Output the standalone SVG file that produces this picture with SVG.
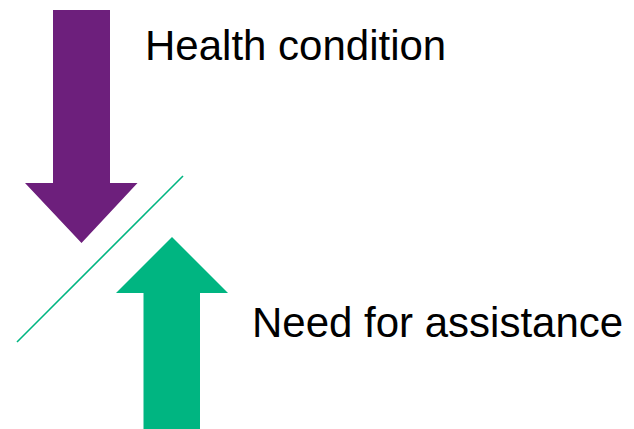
<svg xmlns="http://www.w3.org/2000/svg" width="634" height="429" viewBox="0 0 634 429">
<style>
.lbl{font-family:"Liberation Sans",Arial,sans-serif;font-size:42px;fill:#000}
</style>
<rect width="634" height="429" fill="#fff"/>
<g id="health-arrow">
<polygon points="53,10 110,10 110,183 137.5,183 81.5,243 25,183 53,183" fill="#6d1f7c"/>
</g>
<g id="need-arrow">
<polygon points="172,237 228,293 200,293 200,429 143.5,429 143.5,293 116,293" fill="#00b581"/>
</g>
<g id="connectors">
<line x1="17" y1="342" x2="183" y2="176" stroke="#00b581" stroke-width="1.6"/>
</g>
<g id="label-health"><text class="lbl" x="145" y="60">Health condition</text></g>
<g id="label-need"><text class="lbl" x="252" y="337">Need for assistance</text></g>
</svg>
